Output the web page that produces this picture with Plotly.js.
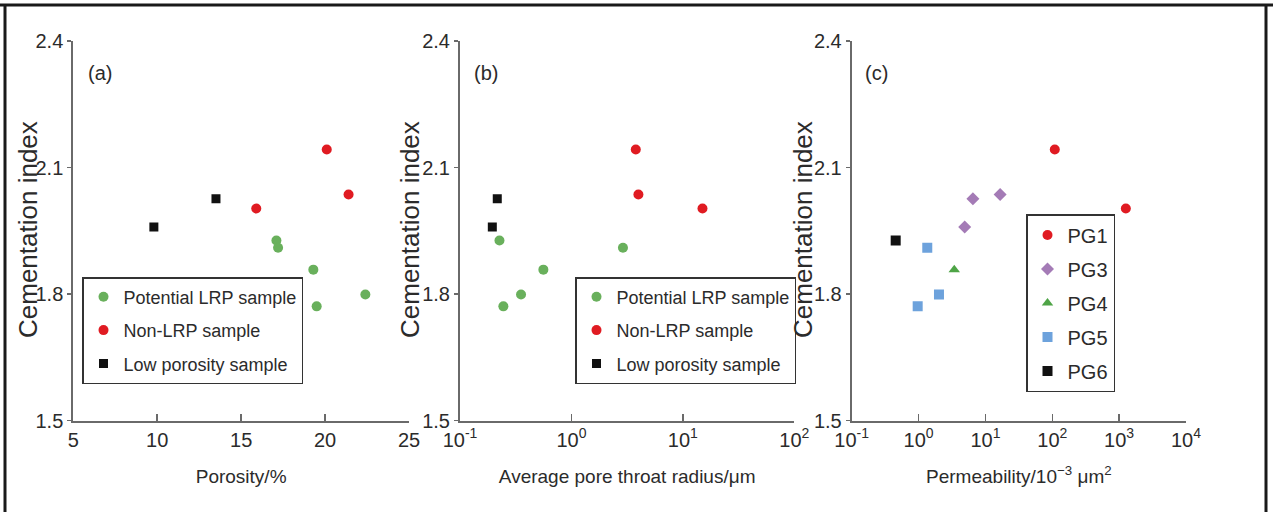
<!DOCTYPE html>
<html>
<head>
<meta charset="utf-8">
<script src="https://cdn.plot.ly/plotly-3.0.1.min.js"></script>
<style>html,body{margin:0;padding:0;background:#fff;}#chart{width:1273px;height:512px;}</style>
</head>
<body>
<div id="chart"></div>
<script>
// ---------- Panel (a): porosity ----------
const lrpPorosity = [17.1, 17.2, 19.3, 19.5, 22.4];
const lrpM = [1.927, 1.910, 1.858, 1.771, 1.799];
const nonPorosity = [15.9, 20.1, 21.4];
const nonM = [2.003, 2.143, 2.036];
const lowPorosity = [9.8, 13.5];
const lowM = [1.959, 2.026];

// ---------- Panel (b): average pore throat radius (um) ----------
const lrpRadius = [0.226, 2.90, 0.56, 0.245, 0.353];
const nonRadius = [15.0, 3.78, 3.99];
const lowRadius = [0.195, 0.216];

// ---------- Panel (c): permeability (10^-3 um^2) ----------
const pg1Perm = [109, 1259];
const pg1M = [2.143, 2.003];
const pg3Perm = [4.9, 6.5, 16.6];
const pg3M = [1.959, 2.026, 2.036];
const pg4Perm = [3.42];
const pg4M = [1.858];
const pg5Perm = [1.35, 2.02, 0.97];
const pg5M = [1.910, 1.799, 1.771];
const pg6Perm = [0.455];
const pg6M = [1.927];

// ---------- labels ----------
const sampleNames = ['Potential LRP sample', 'Non-LRP sample', 'Low porosity sample'];
const groupNames = ['PG1', 'PG3', 'PG4', 'PG5', 'PG6'];
const panelLabels = ['(a)', '(b)', '(c)'];
const xTitles = ['Porosity/%', 'Average pore throat radius/μm', 'Permeability/10<sup>−3</sup> μm<sup>2</sup>'];
const yTitle = 'Cementation index';
const yTicks = [1.5, 1.8, 2.1, 2.4];
const porosityTicks = [5, 10, 15, 20, 25];
const radiusExp = [-1, 0, 1, 2];
const permExp = [-1, 0, 1, 2, 3, 4];

const GREEN = '#69b05c', RED = '#e01b22', BLACK = '#111111';
const PURPLE = '#a47bb6', PG4GREEN = '#4ea446', BLUE = '#6da2dc';

const SANS = 'Liberation Sans, Arial, sans-serif';
const TXT = '#2b2b2b';

function mk(x, y, name, color, symbol, size, xa, ya, leg, grp) {
  return {
    type: 'scatter', mode: 'markers', x: x, y: y, name: name,
    xaxis: xa, yaxis: ya, legend: leg, legendgroup: grp,
    marker: {color: color, symbol: symbol, size: size, line: {width: 0}},
    hoverinfo: 'x+y+name'
  };
}

const data = [
  mk(lrpPorosity, lrpM, sampleNames[0], GREEN, 'circle', 10, 'x', 'y', 'legend', 'a1'),
  mk(nonPorosity, nonM, sampleNames[1], RED, 'circle', 10, 'x', 'y', 'legend', 'a2'),
  mk(lowPorosity, lowM, sampleNames[2], BLACK, 'square', 9, 'x', 'y', 'legend', 'a3'),

  mk(lrpRadius, lrpM, sampleNames[0], GREEN, 'circle', 10, 'x2', 'y2', 'legend2', 'b1'),
  mk(nonRadius, nonM, sampleNames[1], RED, 'circle', 10, 'x2', 'y2', 'legend2', 'b2'),
  mk(lowRadius, lowM, sampleNames[2], BLACK, 'square', 9, 'x2', 'y2', 'legend2', 'b3'),

  mk(pg1Perm, pg1M, groupNames[0], RED, 'circle', 10, 'x3', 'y3', 'legend3', 'c1'),
  mk(pg3Perm, pg3M, groupNames[1], PURPLE, 'diamond', 10, 'x3', 'y3', 'legend3', 'c2'),
  mk(pg4Perm, pg4M, groupNames[2], PG4GREEN, 'triangle-up', 10, 'x3', 'y3', 'legend3', 'c3'),
  mk(pg5Perm, pg5M, groupNames[3], BLUE, 'square', 10, 'x3', 'y3', 'legend3', 'c4'),
  mk(pg6Perm, pg6M, groupNames[4], BLACK, 'square', 10, 'x3', 'y3', 'legend3', 'c5')
];

const W = 1273, H = 512;
const yDom = [1 - 420.7 / H, 1 - 41 / H];

function xAxis(dom, opts) {
  return Object.assign({
    domain: dom, anchor: opts.anchor,
    showline: true, linecolor: '#6a6a6a', linewidth: 2,
    ticks: 'inside', ticklen: 7, tickwidth: 1.5, tickcolor: '#6a6a6a',
    showgrid: false, zeroline: false, mirror: false,
    tickfont: {family: SANS, size: 20, color: TXT},
    title: {text: opts.title, font: {family: SANS, size: 19, color: TXT}, standoff: 20},
    automargin: false
  }, opts.extra);
}
function yAxis(anchor) {
  return {
    domain: yDom, anchor: anchor, range: [1.5, 2.4],
    tickmode: 'array', tickvals: yTicks, ticktext: yTicks.map(v => v.toFixed(1)),
    showline: true, linecolor: '#6a6a6a', linewidth: 2,
    ticks: 'outside', ticklen: 4, tickwidth: 1.5, tickcolor: '#6a6a6a',
    showgrid: false, zeroline: false,
    tickfont: {family: SANS, size: 20, color: TXT},
    automargin: false
  };
}

function pow10Text(e) { return '10<sup>' + (e < 0 ? '-' + Math.abs(e) : e) + '</sup>'; }

function legendBox(x, y, size, gap) {
  return {x: x / W, y: 1 - y / H, xanchor: 'left', yanchor: 'top',
    bordercolor: '#333', borderwidth: 1.5, bgcolor: '#fff', tracegroupgap: gap,
    font: {family: SANS, size: size, color: TXT}, itemwidth: 30};
}
function label(text, x, y) {
  return {text: text, xref: 'paper', yref: 'paper', x: x / W, y: 1 - y / H,
    xanchor: 'center', yanchor: 'middle', showarrow: false,
    font: {family: SANS, size: 20, color: TXT}};
}
function yLabel(x) {
  return {text: yTitle, xref: 'paper', yref: 'paper', x: x / W, y: 1 - 230 / H,
    xanchor: 'center', yanchor: 'middle', textangle: -90, showarrow: false,
    font: {family: SANS, size: 26, color: TXT}};
}

const layout = {
  width: W, height: H,
  margin: {l: 0, r: 0, t: 0, b: 0},
  paper_bgcolor: '#ffffff', plot_bgcolor: '#ffffff',
  showlegend: true,
  xaxis: xAxis([73.3 / W, 409 / W], {anchor: 'y', title: xTitles[0], extra: {
    range: [5, 25], tickmode: 'array', tickvals: porosityTicks, ticktext: porosityTicks.map(String)}}),
  xaxis2: xAxis([460 / W, 794.3 / W], {anchor: 'y2', title: xTitles[1], extra: {
    type: 'log', range: [-1, 2], tickmode: 'array',
    tickvals: radiusExp.map(e => Math.pow(10, e)), ticktext: radiusExp.map(pow10Text)}}),
  xaxis3: xAxis([851.7 / W, 1186 / W], {anchor: 'y3', title: xTitles[2], extra: {
    type: 'log', range: [-1, 4], tickmode: 'array',
    tickvals: permExp.map(e => Math.pow(10, e)), ticktext: permExp.map(pow10Text)}}),
  yaxis: yAxis('x'),
  yaxis2: yAxis('x2'),
  yaxis3: yAxis('x3'),
  legend: legendBox(82, 277, 18, 7),
  legend2: legendBox(575, 277, 18, 7),
  legend3: legendBox(1026, 214, 20, 5),
  annotations: [
    label(panelLabels[0], 100, 73),
    label(panelLabels[1], 486, 73),
    label(panelLabels[2], 877, 73),
    yLabel(28), yLabel(410), yLabel(803)
  ],
  shapes: [
    {type: 'line', xref: 'paper', yref: 'paper', x0: 0, x1: 1, y0: 1 - 5 / H, y1: 1 - 5 / H, line: {color: '#1a1a1a', width: 3}},
    {type: 'line', xref: 'paper', yref: 'paper', x0: 5 / W, x1: 5 / W, y0: 0, y1: 1 - 4 / H, line: {color: '#1a1a1a', width: 3}},
    {type: 'line', xref: 'paper', yref: 'paper', x0: 1266 / W, x1: 1266 / W, y0: 0, y1: 1 - 4 / H, line: {color: '#1a1a1a', width: 3}}
  ]
};

Plotly.newPlot('chart', data, layout, {displayModeBar: false, staticPlot: true});
</script>
</body>
</html>
